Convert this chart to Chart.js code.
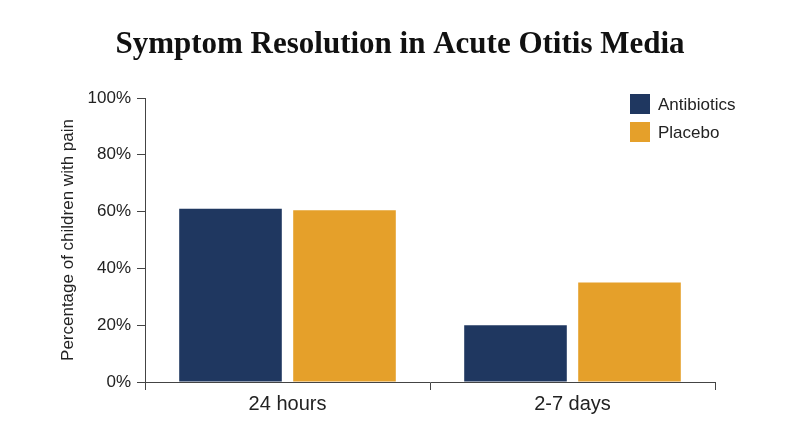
<!DOCTYPE html>
<html><head><meta charset="utf-8">
<script src="https://cdn.jsdelivr.net/npm/chart.js@4"></script>
<style>html,body{margin:0;padding:0;background:#fff}#w{width:800px;height:447px}</style>
</head><body><div id="w"><canvas id="c"></canvas></div>
<script>
const categories = ["24 hours", "2-7 days"];
const antibiotics = [61, 20];
const placebo = [60.5, 35];
const seriesNames = ["Antibiotics", "Placebo"];
const yTicks = [0, 20, 40, 60, 80, 100];
const colors = ["#1f3760", "#e5a02a"];

const overlay = {
  id: 'overlay',
  afterDraw(chart) {
    const ctx = chart.ctx;
    ctx.save();
    ctx.fillStyle = '#111';
    ctx.font = 'bold 31px "Liberation Serif", "DejaVu Serif", serif';
    ctx.textAlign = 'center'; ctx.textBaseline = 'middle';
    ctx.fillText('Symptom Resolution in Acute Otitis Media', 400, 45);
    ctx.font = '17px "Liberation Sans", Arial, sans-serif';
    ctx.textAlign = 'left';
    chart.data.datasets.forEach((d, i) => {
      const y = 104 + i * 28;
      ctx.fillStyle = d.backgroundColor;
      ctx.fillRect(630, y - 10, 20, 20);
      ctx.fillStyle = '#222';
      ctx.fillText(d.label, 658, y + 1);
    });
    ctx.restore();
  }
};

new Chart(document.getElementById('c'), {
  type: 'bar',
  data: {
    labels: categories,
    datasets: [
      { label: seriesNames[0], data: antibiotics, backgroundColor: colors[0] },
      { label: seriesNames[1], data: placebo, backgroundColor: colors[1] }
    ]
  },
  options: {
    responsive: true, maintainAspectRatio: false, animation: false,
    layout: { padding: { top: 98, right: 85, bottom: 29, left: 54 } },
    plugins: { legend: { display: false }, tooltip: { enabled: false } },
    datasets: { bar: { categoryPercentage: 0.8, barPercentage: 0.9 } },
    scales: {
      x: {
        grid: { display: true, drawOnChartArea: false, drawTicks: true, tickLength: 8, color: '#444', offset: true },
        border: { color: '#444', width: 1 },
        ticks: { color: '#222', font: { size: 20, family: '"Liberation Sans", Arial, sans-serif' }, padding: 2 }
      },
      y: {
        min: 0, max: 100,
        afterBuildTicks(s) { s.ticks = yTicks.map(v => ({ value: v })); },
        afterFit(s) { s.width = 91; },
        grid: { display: true, drawOnChartArea: false, tickLength: 8, color: '#444' },
        border: { color: '#444', width: 1 },
        ticks: { color: '#222', font: { size: 17, family: '"Liberation Sans", Arial, sans-serif' }, callback: v => v + '%', padding: 6 },
        title: { display: true, text: 'Percentage of children with pain', color: '#222', font: { size: 17, family: '"Liberation Sans", Arial, sans-serif' }, padding: { bottom: 8 } }
      }
    }
  },
  plugins: [overlay]
});
</script></body></html>
